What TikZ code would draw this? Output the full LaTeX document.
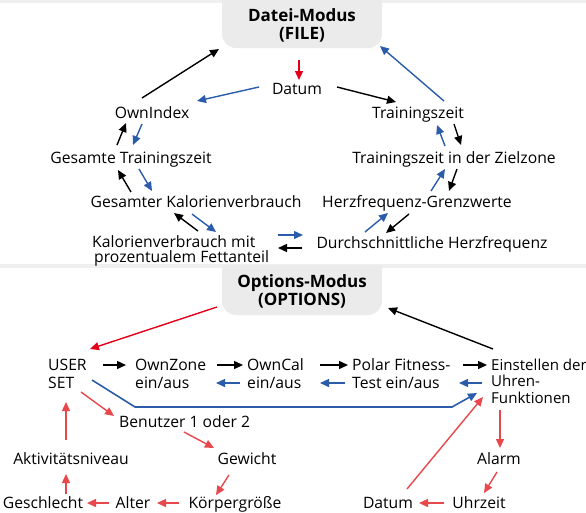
\documentclass[tikz,border=0pt]{standalone}
\usepackage{fontspec}
\setmainfont{Open Sans}
\usetikzlibrary{arrows.meta}
\definecolor{boxgray}{HTML}{EBEBEB}
\definecolor{linegray}{HTML}{EFEFEF}
\definecolor{myblue}{HTML}{2A5CAA}
\definecolor{crimson}{HTML}{E2001A}
\definecolor{coral}{HTML}{E8474B}
\tikzset{
  lbl/.style={inner sep=0pt, font=\fontsize{15.7}{18}\selectfont, anchor=base},
  lblw/.style={inner sep=0pt, font=\fontsize{15.7}{18}\selectfont, anchor=base west, align=left},
  title/.style={inner sep=0pt, font=\fontsize{17}{18}\selectfont\bfseries, align=center},
  arr/.style={line width=1.4pt, -{Triangle[length=9pt,width=8pt]}},
  blk/.style={arr, black},
  blu/.style={arr, myblue},
  crm/.style={arr, crimson},
  red/.style={arr, coral},
}
\begin{document}
\begin{tikzpicture}[x=1pt,y=-1pt]
\useasboundingbox (0,0) rectangle (586,512);
% backgrounds
\begin{scope}
  \clip (0,0) rectangle (586,512);
  \fill[linegray] (0,0) rectangle (586,2.5);
  \fill[boxgray, rounded corners=14pt] (222,-30) rectangle (382,48);
\end{scope}
\fill[linegray] (0,264) rectangle (586,267.5);
\begin{scope}
  \clip (0,265) rectangle (586,512);
  \fill[boxgray, rounded corners=14pt] (222,240) rectangle (382,315);
\end{scope}

% ---- FILE section
\node[title] (file) at (302,25) {Datei-Modus\\(FILE)};
\node[lbl] (datum1) at (297,94) {Datum};
\node[lbl] (ownidx) at (152,118) {OwnIndex};
\node[lbl] (tz) at (418,118) {Trainingszeit};
\node[lbl] (gtz) at (131,163) {Gesamte Trainingszeit};
\node[lbl] (tzz) at (454,163) {Trainingszeit in der Zielzone};
\node[lbl] (gkv) at (196,207) {Gesamter Kalorienverbrauch};
\node[lbl] (hfg) at (417,207) {Herzfrequenz-Grenzwerte};
\node[lblw, font=\fontsize{15.7}{15}\selectfont] (kvm) at (92,262) {Kalorienverbrauch mit\\\hspace*{2pt}prozentualem Fettanteil};
\node[lbl] (dhf) at (432,248) {Durchschnittliche Herzfrequenz};

\draw[crm] ([shift={(-3,35)}]file.center) -- ([shift={(2,-14)}]datum1.base);
\draw[blu] ([shift={(-38,-7)}]datum1.base) -- ([shift={(45,-17)}]ownidx.base);
\draw[blk] ([shift={(40,-7)}]datum1.base) -- ([shift={(-22,-16)}]tz.base);
\draw[blk] ([shift={(-10,-20)}]ownidx.base) -- ([shift={(-83,24)}]file.center);
\draw[blu] ([shift={(26,-17)}]tz.base) -- ([shift={(78,21)}]file.center);
\draw[blk] ([shift={(-14,-18)}]gtz.base) -- ([shift={(-26,5)}]ownidx.base);
\draw[blu] ([shift={(-10,6)}]ownidx.base) -- ([shift={(2,-18)}]gtz.base);
\draw[blu] ([shift={(-9,-17)}]tzz.base) -- ([shift={(19,7)}]tz.base);
\draw[blk] ([shift={(36,6)}]tz.base) -- ([shift={(7,-18)}]tzz.base);
\draw[blk] ([shift={(-65,-15)}]gkv.base) -- ([shift={(-13,7)}]gtz.base);
\draw[blu] ([shift={(8,6)}]gtz.base) -- ([shift={(-44,-16)}]gkv.base);
\draw[blu] ([shift={(14,-16)}]hfg.base) -- ([shift={(-9,6)}]tzz.base);
\draw[blk] ([shift={(3,6)}]tzz.base) -- ([shift={(32,-16)}]hfg.base);
\draw[blk] ([shift={(106,-31)}]kvm.base west) -- ([shift={(-22,6)}]gkv.base);
\draw[blu] ([shift={(-4,7)}]gkv.base) -- ([shift={(124,-30)}]kvm.base west);
\draw[blu] ([shift={(-67,-16)}]dhf.base) -- ([shift={(-29,6)}]hfg.base);
\draw[blk] ([shift={(-8,7)}]hfg.base) -- ([shift={(-46,-15)}]dhf.base);
\draw[blu] ([shift={(186,-27)}]kvm.base west) -- ([shift={(-129,-13)}]dhf.base);
\draw[blk] ([shift={(-130,0)}]dhf.base) -- ([shift={(186,-14)}]kvm.base west);

% ---- OPTIONS section
\node[title] (opt) at (302,291) {Options-Modus\\(OPTIONS)};
\node[lblw] (userset) at (48,388) {USER\\SET};
\node[lblw] (ownzone) at (135,388) {OwnZone\\ein/aus};
\node[lblw] (owncal) at (247,388) {OwnCal\\ein/aus};
\node[lblw] (polar) at (352,388) {Polar Fitness-\\Test ein/aus};
\node[lblw, font=\fontsize{15.1}{16.5}\selectfont] (einst) at (491,403) {Einstellen der\\Uhren-\\Funktionen};
\node[lblw] (benutzer) at (119,427) {Benutzer 1 oder 2};
\node[lbl] (gewicht) at (247,464) {Gewicht};
\node[lbl] (koerper) at (235,508) {Körpergröße};
\node[lbl] (alter) at (133,508) {Alter};
\node[lbl] (geschl) at (43,508) {Geschlecht};
\node[lbl] (aktiv) at (71,464) {Aktivitätsniveau};
\node[lbl] (alarm) at (499,464) {Alarm};
\node[lbl] (uhrzeit) at (479,508) {Uhrzeit};
\node[lbl] (datum2) at (388,508) {Datum};

\draw[crm] ([shift={(-85,16)}]opt.center) -- ([shift={(42,-39)}]userset.base west);
\draw[blk] ([shift={(2,-54)}]einst.base west) -- ([shift={(86,17)}]opt.center);
\draw[blk] ([shift={(55,-23)}]userset.base west) -- ([shift={(-9,-23)}]ownzone.base west);
\draw[blk] ([shift={(82,-23)}]ownzone.base west) -- ([shift={(-4,-23)}]owncal.base west);
\draw[blk] ([shift={(73,-23)}]owncal.base west) -- ([shift={(-4,-23)}]polar.base west);
\draw[blk] ([shift={(111,-23)}]polar.base west) -- ([shift={(-4,-38)}]einst.base west);
\draw[blu] ([shift={(-7,-5)}]owncal.base west) -- ([shift={(81,-5)}]ownzone.base west);
\draw[blu] ([shift={(-7,-5)}]polar.base west) -- ([shift={(73,-5)}]owncal.base west);
\draw[blu] ([shift={(-9,-20)}]einst.base west) -- ([shift={(107,-5)}]polar.base west);
\draw[blu, line width=1.6pt] ([shift={(44,-8)}]userset.base west) -- ++(43,27) -- ++(317,0) -- ([shift={(-14,-10)}]einst.base west);
\draw[red] ([shift={(33,4)}]userset.base west) -- ([shift={(-5,-11)}]benutzer.base west);
\draw[red] ([shift={(65,5)}]benutzer.base west) -- ([shift={(-33,-16)}]gewicht.base);
\draw[red] ([shift={(-18,11)}]gewicht.base) -- ([shift={(-19,-13)}]koerper.base);
\draw[red] ([shift={(-56,-5)}]koerper.base) -- ([shift={(24,-5)}]alter.base);
\draw[red] ([shift={(-24,-5)}]alter.base) -- ([shift={(44,-5)}]geschl.base);
\draw[red] ([shift={(23,-14)}]geschl.base) -- ([shift={(-5,10)}]aktiv.base);
\draw[red] ([shift={(-5,-24)}]aktiv.base) -- ([shift={(18,14)}]userset.base west);
\draw[red] ([shift={(9,7)}]einst.base west) -- ([shift={(1,-16)}]alarm.base);
\draw[red] ([shift={(-2,8)}]alarm.base) -- ([shift={(5,-15)}]uhrzeit.base);
\draw[red] ([shift={(-35,-5)}]uhrzeit.base) -- ([shift={(31,-5)}]datum2.base);
\draw[red] ([shift={(19,-19)}]datum2.base) -- ([shift={(-8,-6)}]einst.base west);
\end{tikzpicture}
\end{document}
